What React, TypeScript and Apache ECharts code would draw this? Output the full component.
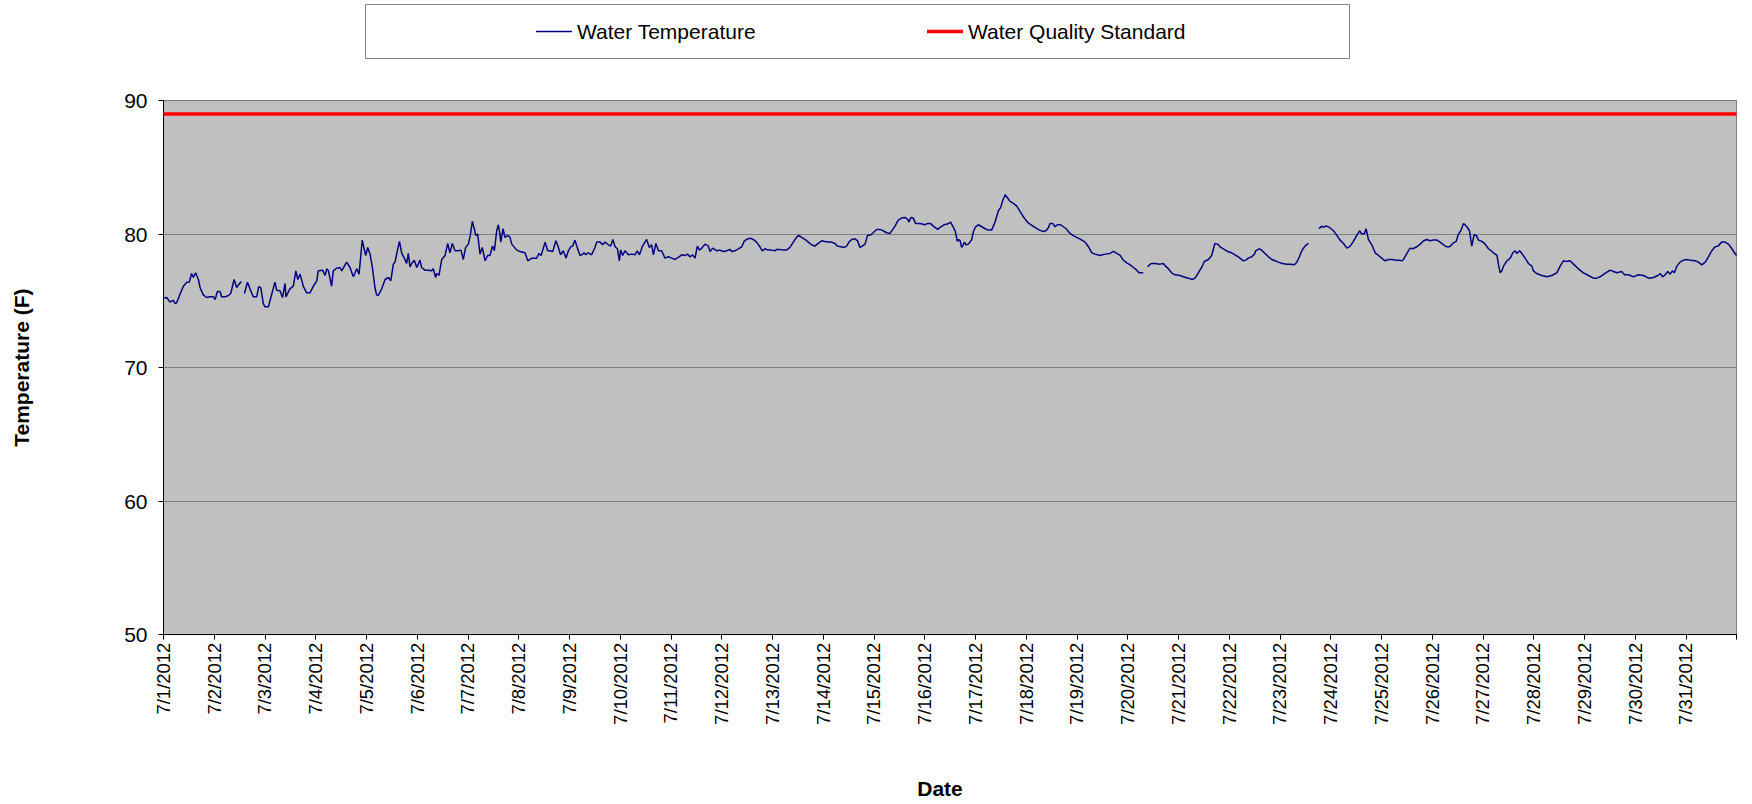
import React, { useEffect, useRef } from "react";
import * as echarts from "echarts";

// Hours since 7/1/2012 00:00
const hours = [
  0, 1.5, 3.1, 4.7, 5.4, 6.2, 7.8, 9.4, 11, 12.2, 13.3, 14.1, 15.2, 16.5, 17.3, 18.8, 20.4, 22, 23.6,
  24.4, 25.5, 26.7, 27.5, 29.1, 30.7, 31.8, 33.4, 34.6, 36.7, 37.5, 38.3, 39.7, 40.9, 42.5, 44.1, 45, 46, 47.2,
  48, 49.6, 51.2, 52.7, 53.5, 55.1, 56.3, 57.5, 57.9, 59.8, 61.4, 62.6, 63.5, 64.6, 66.1, 67.7, 69.3, 70.9,
  72.5, 73.2, 75.3, 76.4, 77.2, 78, 79.5, 80.3, 81.9, 83.5, 84.3, 86.6, 88.2, 89.8,
  91.4, 92.5, 94.0, 95.6, 96.6, 97.7, 98.8, 100.0, 100.8, 101.6, 103.2, 104.8, 106.4, 107.5, 108.7, 109.5,
  110.6, 111.6, 112.7, 113.9, 115.0, 115.8, 116.6, 117.4, 118.6, 119.8, 121.3, 122.1, 123.7, 125.3, 126.8,
  127.6, 128.7, 129.2, 130.3, 131.6, 133.2, 134.4, 135.5, 136.6, 137.9, 139.2, 140.7, 141.8, 142.9, 144.2,
  145.1, 146.1, 147.0, 147.7, 148.6, 149.7, 150.8, 152.1, 153.3, 154.4, 155.6, 156.5, 157.6, 158.4, 159.2,
  159.5, 160.6, 161.5, 162.8, 163.9, 164.7, 167.1, 168.6, 171.0, 172.3, 174.2, 176.5, 177.6, 178.6, 180.5,
  181.7, 182.8, 184.1, 185.6, 186.7, 187.8, 189.1, 190.4, 191.5, 192.6, 193.5, 194.6, 195.7, 197.0, 198.3,
  198.9, 199.8, 200.9, 202.5, 204.1, 204.9, 206.5, 207.7, 208.8, 210.4, 211.5, 212.5, 213.6, 214.7, 215.6,
  216.2, 217.2, 218.3, 219.9, 221.4, 223.0, 224.1, 225.1, 226.6, 228.5, 229.8, 230.9, 231.7, 232.9, 234.1,
  235.6, 237.2, 238.8, 240.4, 241.9, 243.5, 245.1, 246.7, 247.8, 249.0, 250.3, 251.4, 252.5, 253.5, 254.6,
  256.1, 257.7, 258.5, 259.8, 261.7, 263.2, 264.8, 266.4, 268.0, 268.7, 270.3, 271.9, 273.5, 274.6,
  275.8, 277.4, 278.9, 280.5, 282.1, 283.2, 284.5, 286.0, 287.6, 289.2, 290.0, 291.6, 293.1, 294.7, 296.3,
  297.9, 299.4, 300.5, 301.8, 303.4, 305.0, 306.5, 308.1, 309.7, 311.3, 312.8, 314.4, 316.0, 317.6, 318.8,
  320.4, 322.0, 323.1, 324.2, 325.5, 327.0, 328.3, 329.4, 330.5, 331.8, 333.0, 334.6, 335.7, 337.3, 338.9,
  340.4, 342.0, 343.6, 344.7, 346.0, 347.5, 349.1, 350.7, 352.0, 352.6, 353.5, 354.6, 355.7, 357.8, 360.2,
  361.4, 362.7, 364.1, 366.2,
  367.3, 369.2, 370.8, 372.3, 373.6, 374.5, 375.5, 376.1, 376.8, 377.5, 378.3, 378.8, 379.6, 380.7, 382.3,
  383.1, 383.9, 385.4, 387.0, 388.6, 390.2, 391.7, 393.3, 394.9, 396.0, 396.9, 398.1, 398.8, 400.4, 402.0,
  403.6, 405.1, 406.7, 408.6, 410.2, 412.2, 414.3, 416.2, 417.4, 418.6, 419.3, 420.6, 421.7, 422.8, 424.4,
  425.6, 426.9, 428.5, 430.1, 431.9, 433.8, 435.9, 437.5, 439.1, 440.6, 443.0, 445.4, 447.7, 449.3, 450.9,
  452.5, 453.7, 455.6, 457.2, 458.8,
  460.3, 461.4, 462.7, 463.4, 464.5, 465.5, 467.1, 469.0, 471.3, 472.9, 474.0, 475.3, 476.8, 478.4, 480.8,
  482.4, 484.7, 486.6, 487.9, 489.1, 491.0, 492.3, 494.2, 495.8, 496.6, 497.3, 498.6, 499.7, 501.3, 503.3,
  505.2, 506.8, 508.7, 510.8, 511.9, 513.1, 514.7, 516.0, 516.6, 518.2, 519.4, 521.0, 522.6, 524.2, 525.7,
  527.3, 529.2, 531.3, 532.8, 534.9, 536.0, 537.1, 538.4, 539.9, 541.5, 544.0, 546.5, 547.8, 548.6, 549.7,
  551.0,
  553.4, 555.0, 556.5, 558.1, 559.7, 561.3, 562.8, 564.4, 565.7, 566.8, 568.0, 568.8, 569.9, 571.5, 573.1,
  574.7, 576.2, 577.8, 579.4, 581.0, 582.5, 584.1, 585.7, 586.5, 588.1, 589.6, 590.9, 592.8, 594.4, 596.0,
  597.5, 599.1, 600.7, 602.3, 603.8, 605.4, 607.0, 608.3, 609.8, 611.4, 612.5, 613.6, 614.9, 616.5, 617.7,
  618.8, 619.9, 620.9, 622.0, 623.6, 625.1, 626.7, 628.3, 629.4, 630.7, 631.4, 632.2, 633.0, 633.8, 635.4,
  637.0, 638.2, 639.3, 640.1, 641.4, 642.5,
  644.0, 645.6, 647.2, 647.9, 649.5, 651.9, 654.3, 656.6, 659.0, 660.6, 662.1, 663.7, 665.3, 666.9, 669.2,
  671.6, 674.0, 676.3, 677.9, 679.5, 681.8, 684.2, 685.8, 687.4, 689.7, 691.0, 692.9, 695.3, 697.6, 700.0,
  702.4, 704.7, 706.8, 707.9, 709.0, 710.2, 711.5, 712.6, 713.7, 714.6, 715.8, 717.3, 718.9, 720.5, 722.1,
  724.4, 726.0, 727.6, 729.2, 730.7, 732.3, 733.9, 735.2, 737.0, 738.6, 740.2, 741.8, 743.3, 744.0,
];

// Water temperature (F); null marks a gap in the record
const waterTemp = [
  75.2, 75.25, 74.9, 75.05, 74.8, 74.85, 75.5, 76.1, 76.4, 76.4, 77.05, 76.75, 77.1, 76.6, 76.0, 75.45, 75.25, 75.3, 75.3,
  75.1, 75.7, 75.7, 75.3, 75.3, 75.4, 75.55, 76.6, 76.0, 76.45, null, 75.55, 76.4, 75.9, 75.3, 75.3, 76.05, 76.0, 74.8,
  74.55, 74.55, 75.5, 76.4, 75.8, 75.75, 75.25, 76.3, 75.3, 75.9, 76.1, 77.25, 76.6, 77.0, 76.1, 75.6, 75.6, 76.1,
  76.5, 77.25, 77.3, 76.9, 77.4, 77.25, 76.1, 77.25, 77.45, 77.5, 77.25, 77.9, 77.5, 76.8,
  77.4, 77.0, 79.55, 78.4, 79.0, 78.5, 77.5, 76.0, 75.45, 75.4, 75.9, 76.6, 76.75, 76.5, 77.75, 77.9,
  78.75, 79.45, 78.55, 78.2, 77.8, 78.55, 77.55, 77.8, 78.05, 77.5, 78.05, 77.5, 77.3, 77.3, 77.25,
  77.4, 76.75, 77.05, 76.9, 78.1, 78.4, 79.3, 78.6, 79.3, 78.75, 78.75, 78.8, 78.1, 79.0, 79.25,
  79.9, 80.95, 80.4, 79.9, 80.0, 78.5, 79.0, 78.0, 78.4, 78.4, 79.1, 78.75, 80.25, 80.7, 79.9,
  79.4, 80.4, 79.75, 79.9, 79.75, 79.25, 78.8, 78.7, 78.6, 78.0, 78.2, 78.2, 78.55, 78.4, 79.4,
  78.75, 78.75, 78.7, 79.5, 79.05, 78.45, 78.75, 78.2, 78.75, 79.05, 79.1, 79.55, 79.0, 78.4, 78.5,
  78.6, 78.45, 78.6, 78.45, 79.0, 79.4, 79.4, 79.2, 79.4, 79.2, 79.1, 79.6, 79.05, 78.9, 78.0,
  78.8, 78.4, 78.75, 78.45, 78.5, 78.45, 78.75, 78.45, 79.1, 79.6, 79.0, 79.2, 78.45, 79.3, 78.75,
  78.75, 78.2, 78.3, 78.2, 78.1, 78.25, 78.45, 78.4, 78.5, 78.3, 78.45, 78.2, 79.1, 78.8, 78.95,
  79.25, 79.1, 78.7, 78.95, 78.75, 78.8, 78.7, 78.75, 78.85, 78.7, 78.75, 78.9, 79.05, 79.45,
  79.6, 79.7, 79.6, 79.4, 79.05, 78.75, 78.9, 78.8, 78.8, 78.75, 78.85, 78.85, 78.8, 78.8, 79.0,
  79.4, 79.75, 79.9, 79.75, 79.6, 79.4, 79.2, 79.1, 79.3, 79.5, 79.45, 79.4, 79.4, 79.3, 79.1,
  79.05, 79.0, 79.1, 79.4, 79.6, 79.65, 79.5, 79.0, 79.1, 79.25, 79.9, 79.95, 80.1, 80.35, 80.35,
  80.25, 80.1, 80.05, 80.3, 80.6, 81.05, 81.2, 81.25, 81.1, 80.9, 81.25, 81.2, 80.8, 80.8, 80.7,
  80.8, 80.8, 80.6, 80.35,
  80.5, 80.7, 80.75, 80.9, 80.5, 80.2, 79.45, 79.6, 79.5, 79.0, 79.2, 79.4, 79.2, 79.25, 79.6,
  80.2, 80.5, 80.7, 80.55, 80.4, 80.3, 80.3, 80.9, 81.75, 82.0, 82.5, 82.95, 82.8, 82.45, 82.3,
  82.1, 81.7, 81.3, 80.9, 80.7, 80.5, 80.3, 80.2, 80.25, 80.5, 80.8, 80.8, 80.55, 80.7, 80.7,
  80.55, 80.4, 80.1, 79.9, 79.75, 79.6, 79.4, 79.05, 78.6, 78.5, 78.4, 78.5, 78.55, 78.7, 78.55,
  78.4, 78.1, 77.85, 77.7, 77.5,
  77.3, 77.1, 77.1, 77.1, null, 77.55, 77.8, 77.8, 77.75, 77.8, 77.6, 77.4, 77.1, 76.95, 76.9,
  76.8, 76.7, 76.6, 76.7, 77.0, 77.5, 77.95, 78.1, 78.4, 78.9, 79.3, 79.25, 79.05, 78.9, 78.7,
  78.6, 78.45, 78.25, 78.0, 78.05, 78.2, 78.3, 78.5, 78.75, 78.9, 78.8, 78.55, 78.3, 78.1, 78.0,
  77.9, 77.8, 77.75, 77.75, 77.7, 77.9, 78.25, 78.75, 79.1, 79.3, null, 80.4, 80.6, 80.5, 80.6,
  80.55,
  80.25, 79.9, 79.55, 79.3, 78.95, 79.1, 79.45, 79.9, 80.25, 80.0, 80.05, 80.4, 79.6, 79.2, 78.6,
  78.4, 78.2, 78.0, 78.1, 78.1, 78.05, 78.05, 78.0, 78.1, 78.55, 78.95, 78.9, 79.05, 79.25, 79.5,
  79.6, 79.5, 79.55, 79.55, 79.4, 79.2, 79.05, 79.05, 79.3, 79.45, 80.0, 80.25, 80.8, 80.55, 80.25,
  79.1, 79.95, 79.9, 79.55, 79.45, 79.25, 78.9, 78.7, 78.55, 78.4, 77.75, 77.1, 77.25, 77.6, 78.0,
  78.2, 78.6, 78.75, 78.55, 78.75, 78.55,
  78.2, 77.8, 77.6, 77.25, 77.05, 76.9, 76.8, 76.9, 77.1, 77.6, 78.0, 77.95, 78.0, 77.75, 77.4,
  77.1, 76.9, 76.7, 76.7, 76.8, 77.05, 77.3, 77.2, 77.1, 77.2, 76.95, 76.95, 76.8, 76.95, 76.9,
  76.7, 76.75, 76.9, 77.05, 76.8, 76.95, 77.2, 77.0, 77.25, 77.1, 77.6, 77.9, 78.05, 78.1, 78.05,
  78.0, 77.9, 77.7, 77.9, 78.3, 78.75, 79.05, 79.1, 79.4, 79.4, 79.25, 78.9, 78.55, 78.4,
];

const dateLabels = [
  "7/1/2012", "7/2/2012", "7/3/2012", "7/4/2012", "7/5/2012", "7/6/2012", "7/7/2012", "7/8/2012",
  "7/9/2012", "7/10/2012", "7/11/2012", "7/12/2012", "7/13/2012", "7/14/2012", "7/15/2012", "7/16/2012",
  "7/17/2012", "7/18/2012", "7/19/2012", "7/20/2012", "7/21/2012", "7/22/2012", "7/23/2012", "7/24/2012",
  "7/25/2012", "7/26/2012", "7/27/2012", "7/28/2012", "7/29/2012", "7/30/2012", "7/31/2012",
];

const seriesNames = ["Water Temperature", "Water Quality Standard"];
const seriesColors = ["#000080", "#FF0000"];
const standardValue = 89;
const periodHours = 744;
const yMin = 50;
const yMax = 90;
const yStep = 10;

export default function App() {
  const ref = useRef<HTMLDivElement>(null);

  useEffect(() => {
    if (!ref.current) return;
    const chart = echarts.init(ref.current, null, { renderer: "svg" });
    const font = "'Liberation Sans', Arial, sans-serif";
    const legendBase = {
      top: 21,
      padding: 0,
      itemWidth: 36,
      icon: "rect",
      textStyle: { fontSize: 21, color: "#000000", fontFamily: font },
    };
    chart.setOption({
      animation: false,
      backgroundColor: "#ffffff",
      textStyle: { fontFamily: font },
      graphic: [
        {
          type: "rect",
          z: -10,
          silent: true,
          shape: { x: 365.5, y: 4.5, width: 984, height: 54 },
          style: { fill: "#ffffff", stroke: "#808080", lineWidth: 1 },
        },
      ],
      legend: [
        { ...legendBase, left: 536, itemHeight: 1.5, data: [seriesNames[0]] },
        { ...legendBase, left: 927, itemHeight: 3.5, data: [seriesNames[1]] },
      ],
      grid: {
        left: 163.5,
        right: 15.5,
        top: 100.6,
        bottom: 169.4,
        show: true,
        backgroundColor: "#C0C0C0",
        borderColor: "#808080",
        borderWidth: 1,
      },
      xAxis: {
        type: "value",
        min: 0,
        max: periodHours,
        interval: 24,
        name: "Date",
        nameLocation: "middle",
        nameGap: 143,
        nameTextStyle: {
          fontSize: 21,
          fontWeight: "bold",
          color: "#000000",
          fontFamily: font,
          padding: [0, 20, 0, 0],
        },
        axisLine: { show: true, lineStyle: { color: "#000000", width: 1 } },
        axisTick: { show: true, length: 5, lineStyle: { color: "#000000" } },
        axisLabel: {
          rotate: 90,
          fontSize: 18.5,
          color: "#000000",
          margin: 8,
          fontFamily: font,
          formatter: (v: number) => dateLabels[Math.round(v / 24)] ?? "",
        },
        splitLine: { show: false },
      },
      yAxis: {
        type: "value",
        min: yMin,
        max: yMax,
        interval: yStep,
        name: "Temperature (F)",
        nameLocation: "middle",
        nameGap: 132,
        nameTextStyle: { fontSize: 21, fontWeight: "bold", color: "#000000", fontFamily: font },
        axisLine: { show: true, lineStyle: { color: "#000000", width: 1 } },
        axisTick: { show: true, length: 5, lineStyle: { color: "#000000" } },
        axisLabel: { fontSize: 21, color: "#000000", margin: 16, fontFamily: font },
        splitLine: { show: true, lineStyle: { color: "#808080", width: 1 } },
      },
      series: [
        {
          name: seriesNames[0],
          type: "line",
          data: hours.map((h, i) => [h, waterTemp[i] === null ? "-" : waterTemp[i]]),
          symbol: "none",
          showSymbol: false,
          connectNulls: false,
          lineStyle: { color: seriesColors[0], width: 1.5 },
          itemStyle: { color: seriesColors[0] },
          z: 3,
        },
        {
          name: seriesNames[1],
          type: "line",
          data: [
            [0, standardValue],
            [periodHours, standardValue],
          ],
          symbol: "none",
          showSymbol: false,
          lineStyle: { color: seriesColors[1], width: 3.5 },
          itemStyle: { color: seriesColors[1] },
          z: 3,
        },
      ],
    });
    return () => chart.dispose();
  }, []);

  return (
    <div
      ref={ref}
      style={{ position: "absolute", left: 0, top: 0, width: 1752, height: 804 }}
    />
  );
}
